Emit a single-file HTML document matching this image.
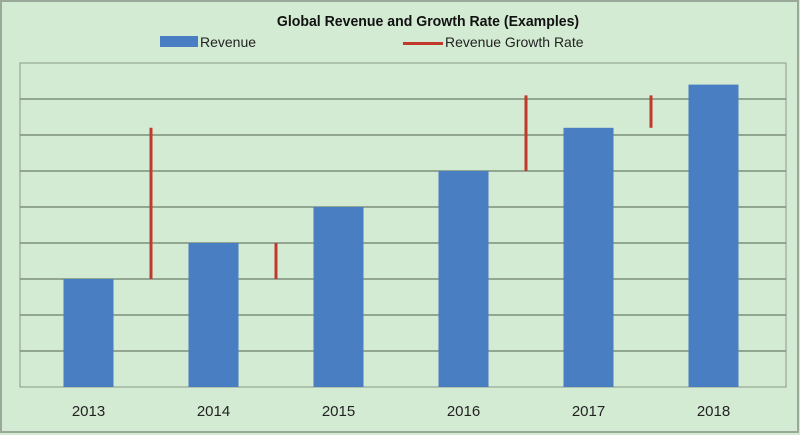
<!DOCTYPE html>
<html><head><meta charset="utf-8"><style>
html,body{margin:0;padding:0;background:#d4ebd3;}
svg{display:block;font-family:"Liberation Sans",sans-serif;}
</style></head><body>
<svg id="c" width="800" height="435">
<rect x="1" y="1" width="797" height="431" fill="#d4ebd3" stroke="#9aa89a" stroke-width="2"/>
<text x="428" y="26" text-anchor="middle" font-size="15" font-weight="bold" fill="#111" transform="scale(0.94,1)" transform-origin="428 26">Global  Revenue   and Growth Rate (Examples)</text>
<g>
<rect x="160" y="36" width="38" height="11" fill="#4a7ec2"/>
<text x="200" y="47" font-size="14" fill="#222">Revenue</text>
<rect x="403" y="42" width="40" height="3" fill="#c0392b"/>
<text x="445" y="47" font-size="14" fill="#222">Revenue Growth Rate</text>
</g>
<rect x="20" y="63" width="766" height="324" fill="#d4ebd3" stroke="#8a9a8a" stroke-width="1"/>
<g id="grid"></g><g id="bars"></g><g id="growth"></g><g id="xlabels"></g>
</svg>
<script>
const categories=["2013","2014","2015","2016","2017","2018"];
const revenue=[3,4,5,6,7.2,8.4];
const growthAfter=[0,1,3,4];
const growthLow=[3,3,6,7.2];
const growthHigh=[7.2,4,8.1,8.1];
const gridValues=[1,2,3,4,5,6,7,8];
const NS="http://www.w3.org/2000/svg";
const L=20,R=786,T=63,B=387,maxV=9;
const bandStart=26,band=125;
const y=v=>B-v/maxV*(B-T);
const cx=i=>bandStart+band*(i+0.5);
function mk(t,a,p){const e=document.createElementNS(NS,t);for(const k in a)e.setAttribute(k,a[k]);p.appendChild(e);return e;}
const g=document.getElementById('grid');
gridValues.forEach(v=>{
 const l=mk('line',{x1:L,x2:R,y1:y(v),y2:y(v),stroke:'#7d8f7d','stroke-width':1.5},g);
 
 
});
const bg=document.getElementById('bars');
revenue.forEach((v,i)=>{
 const r=mk('rect',{x:cx(i)-25,y:y(v),width:50,height:B-y(v),fill:'#4a7ec2'},bg);
 
 
});
const gg=document.getElementById('growth');
growthAfter.forEach((i,k)=>{
 const x=(cx(i)+cx(i+1))/2;
 const l=mk('line',{x1:x,x2:x,y1:y(growthLow[k]),y2:y(growthHigh[k]),stroke:'#c0392b','stroke-width':3},gg);
 
 
});
const xl=document.getElementById('xlabels');
categories.forEach((c,i)=>{
 const t=mk('text',{x:cx(i),y:416,'text-anchor':'middle','font-size':15,fill:'#222'},xl);
 t.textContent=c;
 
 
});
</script>
</body></html>
